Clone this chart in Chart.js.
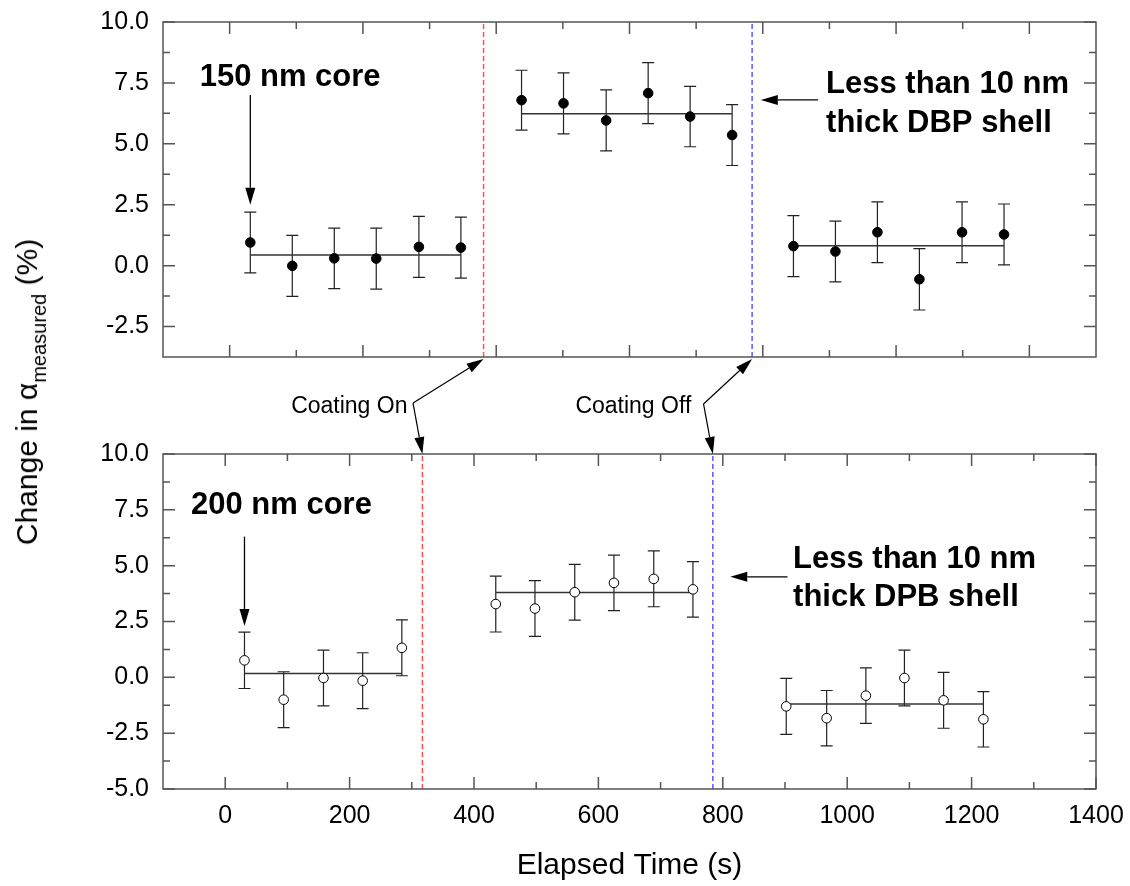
<!DOCTYPE html>
<html>
<head>
<meta charset="utf-8">
<script src="https://cdn.jsdelivr.net/npm/chart.js@4"></script>
<style>
    html, body { margin: 0; padding: 0; background: #fff; }
    #wrap { position: relative; width: 1130px; height: 886px; overflow: hidden; }
    #wrap canvas { position: absolute; left: 0; top: 0; }
    #ytitle {
        position: absolute; left: 27px; top: 392px;
        transform: translate(-50%, -50%) rotate(-90deg);
        font: 30px "Liberation Sans", Arial, sans-serif; line-height: 30px;
        white-space: nowrap; color: #000;
    }
    #ytitle sub { font-size: 20px; line-height: 0; vertical-align: -9px; }
</style>
</head>
<body>
<div id="wrap">
    <canvas id="topChart" width="1130" height="886"></canvas>
    <canvas id="botChart" width="1130" height="886"></canvas>
    <div id="ytitle">Change in α<sub>measured</sub> (%)</div>
</div>
<script>
// --- data: 150 nm core (top panel) ---
const topCoreTime  = [31, 94, 157, 220, 284, 347];
const topCoreVal   = [0.95, -0.01, 0.30, 0.29, 0.77, 0.74];
const topCoreErr   = [1.25, 1.25, 1.24, 1.25, 1.25, 1.25];
const topShellTime = [438, 501, 565, 628, 691, 754];
const topShellVal  = [6.79, 6.66, 5.96, 7.08, 6.12, 5.36];
const topShellErr  = [1.23, 1.25, 1.25, 1.25, 1.24, 1.25];
const topBareTime  = [846, 909, 972, 1035, 1099, 1162];
const topBareVal   = [0.80, 0.58, 1.37, -0.56, 1.37, 1.28];
const topBareErr   = [1.25, 1.25, 1.25, 1.26, 1.25, 1.25];
const topMeans     = [0.44, 6.23, 0.82];
const topCoatOn = 381, topCoatOff = 784;

// --- data: 200 nm core (bottom panel) ---
const botCoreTime  = [31, 94, 158, 221, 284];
const botCoreVal   = [0.76, -1.00, -0.03, -0.15, 1.32];
const botCoreErr   = [1.26, 1.25, 1.25, 1.25, 1.25];
const botShellTime = [435, 498, 562, 625, 689, 752];
const botShellVal  = [3.28, 3.08, 3.81, 4.23, 4.41, 3.94];
const botShellErr  = [1.25, 1.25, 1.25, 1.24, 1.25, 1.24];
const botBareTime  = [902, 967, 1030, 1092, 1155, 1219];
const botBareVal   = [-1.30, -1.83, -0.82, -0.03, -1.03, -1.88];
const botBareErr   = [1.25, 1.24, 1.24, 1.25, 1.25, 1.24];
const botMeans     = [0.17, 3.80, -1.19];
const botCoatOn = 317, botCoatOff = 784;

// --- axes ---
const topXRange = [-100, 1300], topYRange = [-3.75, 10];
const botXRange = [-100, 1400], botYRange = [-5, 10];
const topXMajor = [0, 200, 400, 600, 800, 1000, 1200];
const topXMinor = [100, 300, 500, 700, 900, 1100];
const botXMajor = [0, 200, 400, 600, 800, 1000, 1200, 1400];
const botXMinor = [100, 300, 500, 700, 900, 1100, 1300];
const topYMajor = [-2.5, 0, 2.5, 5, 7.5, 10];
const topYMinor = [-1.25, 1.25, 3.75, 6.25, 8.75];
const botYMajor = [-5, -2.5, 0, 2.5, 5, 7.5, 10];
const botYMinor = [-3.75, -1.25, 1.25, 3.75, 6.25, 8.75];

// --- annotations (data coordinates) ---
const topNotes = [
    { text: '150 nm core', x: -45, y: 7.36 },
    { text: 'Less than 10 nm', x: 895, y: 7.07 },
    { text: 'thick DBP shell', x: 895, y: 5.47 }
];
const topArrows = [[31, 7.0, 31, 2.5], [883, 6.8, 797, 6.8]];
const botNotes = [
    { text: '200 nm core', x: -55, y: 7.32 },
    { text: 'Less than 10 nm', x: 913, y: 4.90 },
    { text: 'thick DPB shell', x: 913, y: 3.18 }
];
const botArrows = [[31, 6.3, 31, 2.3], [904, 4.5, 812, 4.5]];
const coatNotes = [
    { text: 'Coating On', x: 106, y: 11.83, elbowX: 302, elbowY: 12.28 },
    { text: 'Coating Off', x: 563, y: 11.83, elbowX: 769, elbowY: 12.24 }
];

const FONT = '"Liberation Sans", Arial, sans-serif';
const frameColor = '#555';
const clear = 'rgba(0, 0, 0, 0)';

function pointSet(times, vals, errs, filled) {
    return {
        type: 'scatter',
        data: times.map((t, i) => ({ x: t, y: vals[i] })),
        errors: errs,
        pointRadius: 4.8,
        pointBackgroundColor: filled ? '#000' : '#fff',
        pointBorderColor: '#000',
        pointBorderWidth: 1,
        order: 0
    };
}

function meanSet(times, mean) {
    return {
        type: 'line',
        data: [{ x: times[0], y: mean }, { x: times[times.length - 1], y: mean }],
        borderColor: '#333', borderWidth: 1.5, pointRadius: 0, order: 1
    };
}

function vline(x, yr, color) {
    return {
        type: 'line',
        data: [{ x: x, y: yr[0] }, { x: x, y: yr[1] }],
        borderColor: color, borderWidth: 1.5, borderDash: [5, 3], pointRadius: 0, order: 2
    };
}

// error bars with caps, drawn under the markers
const errorBarPlugin = {
    id: 'errorBars',
    beforeDatasetsDraw(chart) {
        const { ctx, scales: { x, y } } = chart;
        ctx.save();
        ctx.strokeStyle = '#222';
        ctx.lineWidth = 1.2;
        chart.data.datasets.forEach(ds => {
            if (!ds.errors) return;
            ds.data.forEach((d, i) => {
                const px = x.getPixelForValue(d.x);
                const hi = y.getPixelForValue(d.y + ds.errors[i]);
                const lo = y.getPixelForValue(d.y - ds.errors[i]);
                ctx.beginPath();
                ctx.moveTo(px, hi); ctx.lineTo(px, lo);
                ctx.moveTo(px - 6, hi); ctx.lineTo(px + 6, hi);
                ctx.moveTo(px - 6, lo); ctx.lineTo(px + 6, lo);
                ctx.stroke();
            });
        });
        ctx.restore();
    }
};

// box with inward ticks on all four sides
function makeFrame(xMajor, xMinor, yMajor, yMinor) {
    return {
        id: 'frame',
        afterDatasetsDraw(chart) {
            const { ctx, chartArea: a, scales: { x, y } } = chart;
            ctx.save();
            ctx.strokeStyle = frameColor;
            ctx.lineWidth = 1.5;
            ctx.strokeRect(a.left, a.top, a.right - a.left, a.bottom - a.top);
            ctx.beginPath();
            const tx = (v, len) => {
                const p = x.getPixelForValue(v);
                ctx.moveTo(p, a.bottom); ctx.lineTo(p, a.bottom - len);
                ctx.moveTo(p, a.top); ctx.lineTo(p, a.top + len);
            };
            const ty = (v, len) => {
                const p = y.getPixelForValue(v);
                ctx.moveTo(a.left, p); ctx.lineTo(a.left + len, p);
                ctx.moveTo(a.right, p); ctx.lineTo(a.right - len, p);
            };
            xMajor.forEach(v => tx(v, 12));
            xMinor.forEach(v => tx(v, 7));
            yMajor.forEach(v => ty(v, 12));
            yMinor.forEach(v => ty(v, 7));
            ctx.stroke();
            ctx.restore();
        }
    };
}

function arrow(ctx, x1, y1, x2, y2) {
    const ang = Math.atan2(y2 - y1, x2 - x1);
    const L = 17, W = 5;
    const bx = x2 - L * Math.cos(ang), by = y2 - L * Math.sin(ang);
    ctx.beginPath();
    ctx.moveTo(x1, y1); ctx.lineTo(bx, by);
    ctx.stroke();
    ctx.beginPath();
    ctx.moveTo(x2, y2);
    ctx.lineTo(bx + W * Math.sin(ang), by - W * Math.cos(ang));
    ctx.lineTo(bx - W * Math.sin(ang), by + W * Math.cos(ang));
    ctx.closePath();
    ctx.fill();
}

function makeNotes(notes, arrows) {
    return {
        id: 'notes',
        afterDraw(chart) {
            const { ctx, scales: { x, y } } = chart;
            ctx.save();
            ctx.fillStyle = '#000';
            ctx.strokeStyle = '#000';
            ctx.lineWidth = 1.3;
            ctx.font = 'bold 31px ' + FONT;
            ctx.textBaseline = 'alphabetic';
            notes.forEach(n => ctx.fillText(n.text, x.getPixelForValue(n.x), y.getPixelForValue(n.y)));
            arrows.forEach(a => arrow(ctx, x.getPixelForValue(a[0]), y.getPixelForValue(a[1]),
                                           x.getPixelForValue(a[2]), y.getPixelForValue(a[3])));
            ctx.restore();
        }
    };
}

// label offset comes from an invisible tick mark so it does not add to the layout padding
function yScale(range, major, width) {
    return {
        type: 'linear', min: range[0], max: range[1],
        grid: { display: true, drawOnChartArea: false, drawTicks: true, tickLength: 14, color: clear },
        border: { display: false },
        afterBuildTicks: s => { s.ticks = major.map(v => ({ value: v })); },
        afterFit: s => { s.width = width; },
        ticks: { color: '#000', padding: 0, font: { family: FONT, size: 25 }, callback: v => v.toFixed(1) }
    };
}

// --- top panel ---
const topChart = new Chart(document.getElementById('topChart'), {
    type: 'scatter',
    data: {
        datasets: [
            pointSet(topCoreTime, topCoreVal, topCoreErr, true),
            pointSet(topShellTime, topShellVal, topShellErr, true),
            pointSet(topBareTime, topBareVal, topBareErr, true),
            meanSet(topCoreTime, topMeans[0]),
            meanSet(topShellTime, topMeans[1]),
            meanSet(topBareTime, topMeans[2]),
            vline(topCoatOn, topYRange, 'rgba(255, 50, 50, 0.85)'),
            vline(topCoatOff, topYRange, 'rgba(60, 60, 255, 0.85)')
        ]
    },
    options: {
        responsive: false, animation: false, devicePixelRatio: 1,
        layout: { padding: { top: 22, bottom: 529, left: 0, right: 34 } },
        plugins: { legend: { display: false }, tooltip: { enabled: false } },
        scales: {
            x: { type: 'linear', display: false, min: topXRange[0], max: topXRange[1] },
            y: yScale(topYRange, topYMajor, 163)
        }
    },
    plugins: [errorBarPlugin, makeFrame(topXMajor, topXMinor, topYMajor, topYMinor), makeNotes(topNotes, topArrows)]
});

// coating on/off callouts between the panels
const coatPlugin = {
    id: 'coat',
    afterDraw(chart) {
        const { ctx, chartArea: a, scales: { x, y } } = chart;
        const tx = topChart.scales.x, ta = topChart.chartArea;
        ctx.save();
        ctx.fillStyle = '#000';
        ctx.strokeStyle = '#000';
        ctx.lineWidth = 1.2;
        ctx.font = '23px ' + FONT;
        ctx.textBaseline = 'alphabetic';
        const pairs = [[topCoatOn, botCoatOn], [topCoatOff, botCoatOff]];
        coatNotes.forEach((n, i) => {
            ctx.fillText(n.text, x.getPixelForValue(n.x), y.getPixelForValue(n.y));
            const ex = x.getPixelForValue(n.elbowX), ey = y.getPixelForValue(n.elbowY);
            arrow(ctx, ex, ey, tx.getPixelForValue(pairs[i][0]), ta.bottom + 2);
            arrow(ctx, ex, ey, x.getPixelForValue(pairs[i][1]), a.top);
        });
        ctx.restore();
    }
};

// --- bottom panel ---
new Chart(document.getElementById('botChart'), {
    type: 'scatter',
    data: {
        datasets: [
            pointSet(botCoreTime, botCoreVal, botCoreErr, false),
            pointSet(botShellTime, botShellVal, botShellErr, false),
            pointSet(botBareTime, botBareVal, botBareErr, false),
            meanSet(botCoreTime, botMeans[0]),
            meanSet(botShellTime, botMeans[1]),
            meanSet(botBareTime, botMeans[2]),
            vline(botCoatOn, botYRange, 'rgba(255, 50, 50, 0.85)'),
            vline(botCoatOff, botYRange, 'rgba(60, 60, 255, 0.85)')
        ]
    },
    options: {
        responsive: false, animation: false, devicePixelRatio: 1,
        layout: { padding: { top: 454, bottom: 0, left: 0, right: 34 } },
        plugins: { legend: { display: false }, tooltip: { enabled: false } },
        scales: {
            x: {
                type: 'linear', min: botXRange[0], max: botXRange[1],
                grid: { display: true, drawOnChartArea: false, drawTicks: true, tickLength: 12, color: clear },
                border: { display: false },
                afterBuildTicks: s => { s.ticks = botXMajor.map(v => ({ value: v })); },
                afterFit: s => { s.height = 97; },
                ticks: { color: '#000', padding: 0, maxRotation: 0, font: { family: FONT, size: 25 },
                         callback: v => String(v) },
                title: { display: true, text: 'Elapsed Time (s)', color: '#000',
                         font: { family: FONT, size: 30 }, padding: { top: 0, bottom: 2 } }
            },
            y: yScale(botYRange, botYMajor, 163)
        }
    },
    plugins: [errorBarPlugin, makeFrame(botXMajor, botXMinor, botYMajor, botYMinor), makeNotes(botNotes, botArrows), coatPlugin]
});
</script>
</body>
</html>
